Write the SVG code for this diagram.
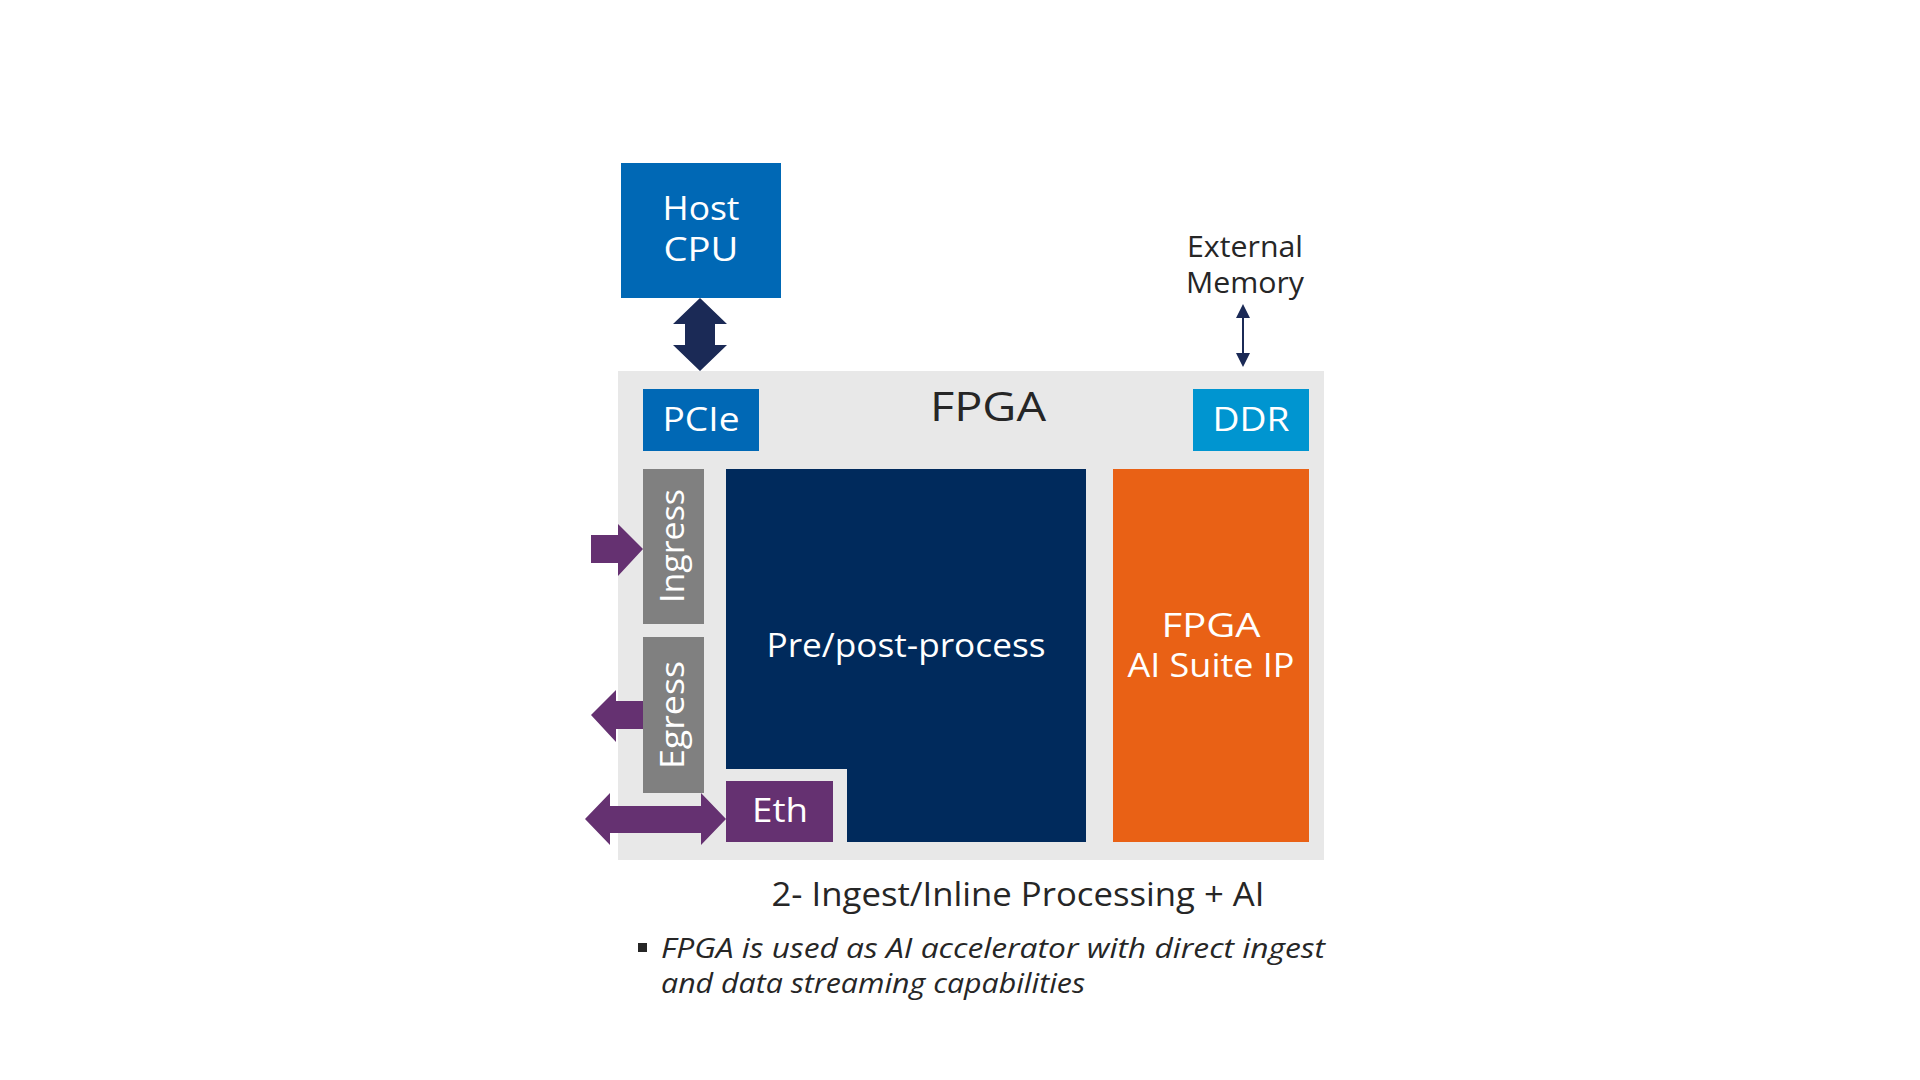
<svg xmlns="http://www.w3.org/2000/svg" width="1920" height="1080" viewBox="0 0 1920 1080">
<style>
text{font-family:"Open Sans","Liberation Sans",sans-serif;}
.w{fill:#fff;font-size:32px;text-anchor:middle}
.k{fill:#262626;text-anchor:middle}
</style>
<rect width="1920" height="1080" fill="#fff"/>
<g id="fpga"><rect x="618" y="371" width="706" height="489" fill="#e8e8e8"/><text class="k" x="988" y="421" font-size="40" textLength="116" lengthAdjust="spacingAndGlyphs">FPGA</text></g>
<g id="host"><rect x="621" y="163" width="160" height="135" fill="#0068b5"/><text class="w" x="701" y="220" textLength="77" lengthAdjust="spacingAndGlyphs">Host</text><text class="w" x="701" y="261" textLength="75" lengthAdjust="spacingAndGlyphs">CPU</text></g>
<g id="pcie"><rect x="643" y="389" width="116" height="62" fill="#0068b5"/><text class="w" x="701" y="431" textLength="77" lengthAdjust="spacingAndGlyphs">PCIe</text></g>
<g id="ddr"><rect x="1193" y="389" width="116" height="62" fill="#0095d0"/><text class="w" x="1251" y="431" textLength="77" lengthAdjust="spacingAndGlyphs">DDR</text></g>
<g id="extmem"><text class="k" x="1245" y="257" font-size="29" textLength="116" lengthAdjust="spacingAndGlyphs">External</text><text class="k" x="1245" y="293" font-size="29" textLength="118" lengthAdjust="spacingAndGlyphs">Memory</text></g>
<g id="ingress"><rect x="643" y="469" width="61" height="155" fill="#808080"/><text class="w" font-size="29" transform="translate(684,546) rotate(-90)" textLength="114" lengthAdjust="spacingAndGlyphs">Ingress</text></g>
<g id="egress"><rect x="643" y="637" width="61" height="156" fill="#808080"/><text class="w" font-size="29" transform="translate(684,715) rotate(-90)" textLength="108" lengthAdjust="spacingAndGlyphs">Egress</text></g>
<g id="prepost"><path d="M726 469H1086V842H847V769H726Z" fill="#002a5c"/><text class="w" x="906" y="657" textLength="279" lengthAdjust="spacingAndGlyphs">Pre/post-process</text></g>
<g id="eth"><rect x="726" y="781" width="107" height="61" fill="#653171"/><text class="w" x="780" y="822" textLength="56" lengthAdjust="spacingAndGlyphs">Eth</text></g>
<g id="ai"><rect x="1113" y="469" width="196" height="373" fill="#e96115"/><text class="w" x="1211" y="637" textLength="99" lengthAdjust="spacingAndGlyphs">FPGA</text><text class="w" x="1211" y="677" textLength="167" lengthAdjust="spacingAndGlyphs">AI Suite IP</text></g>
<g id="connectors">
<path d="M700 298L727 324H715V345H727L700 371L673 345H685V324H673Z" fill="#1b2a56"/>
<line x1="1243" y1="315" x2="1243" y2="356" stroke="#1b2a56" stroke-width="2"/>
<path d="M1236 318L1243 304L1250 318Z M1236 353L1243 367L1250 353Z" fill="#1b2a56"/>
<path d="M591 535H618V524L643 549L618 576V563H591Z" fill="#653171"/>
<path d="M643 701H616V690L591 715L616 742V729H643Z" fill="#653171"/>
<path d="M585 819L610 793V806H701V793L726 819L701 845V833H610V845Z" fill="#653171"/>
</g>
<g id="caption"><text class="k" x="1018" y="906" font-size="32" textLength="493" lengthAdjust="spacingAndGlyphs">2- Ingest/Inline Processing + AI</text>
<rect x="638" y="943" width="9" height="9" fill="#262626"/>
<text x="661" y="958" font-size="28" font-style="italic" fill="#262626" textLength="664" lengthAdjust="spacingAndGlyphs">FPGA is used as AI accelerator with direct ingest</text>
<text x="661" y="993" font-size="28" font-style="italic" fill="#262626" textLength="424" lengthAdjust="spacingAndGlyphs">and data streaming capabilities</text></g>
</svg>
